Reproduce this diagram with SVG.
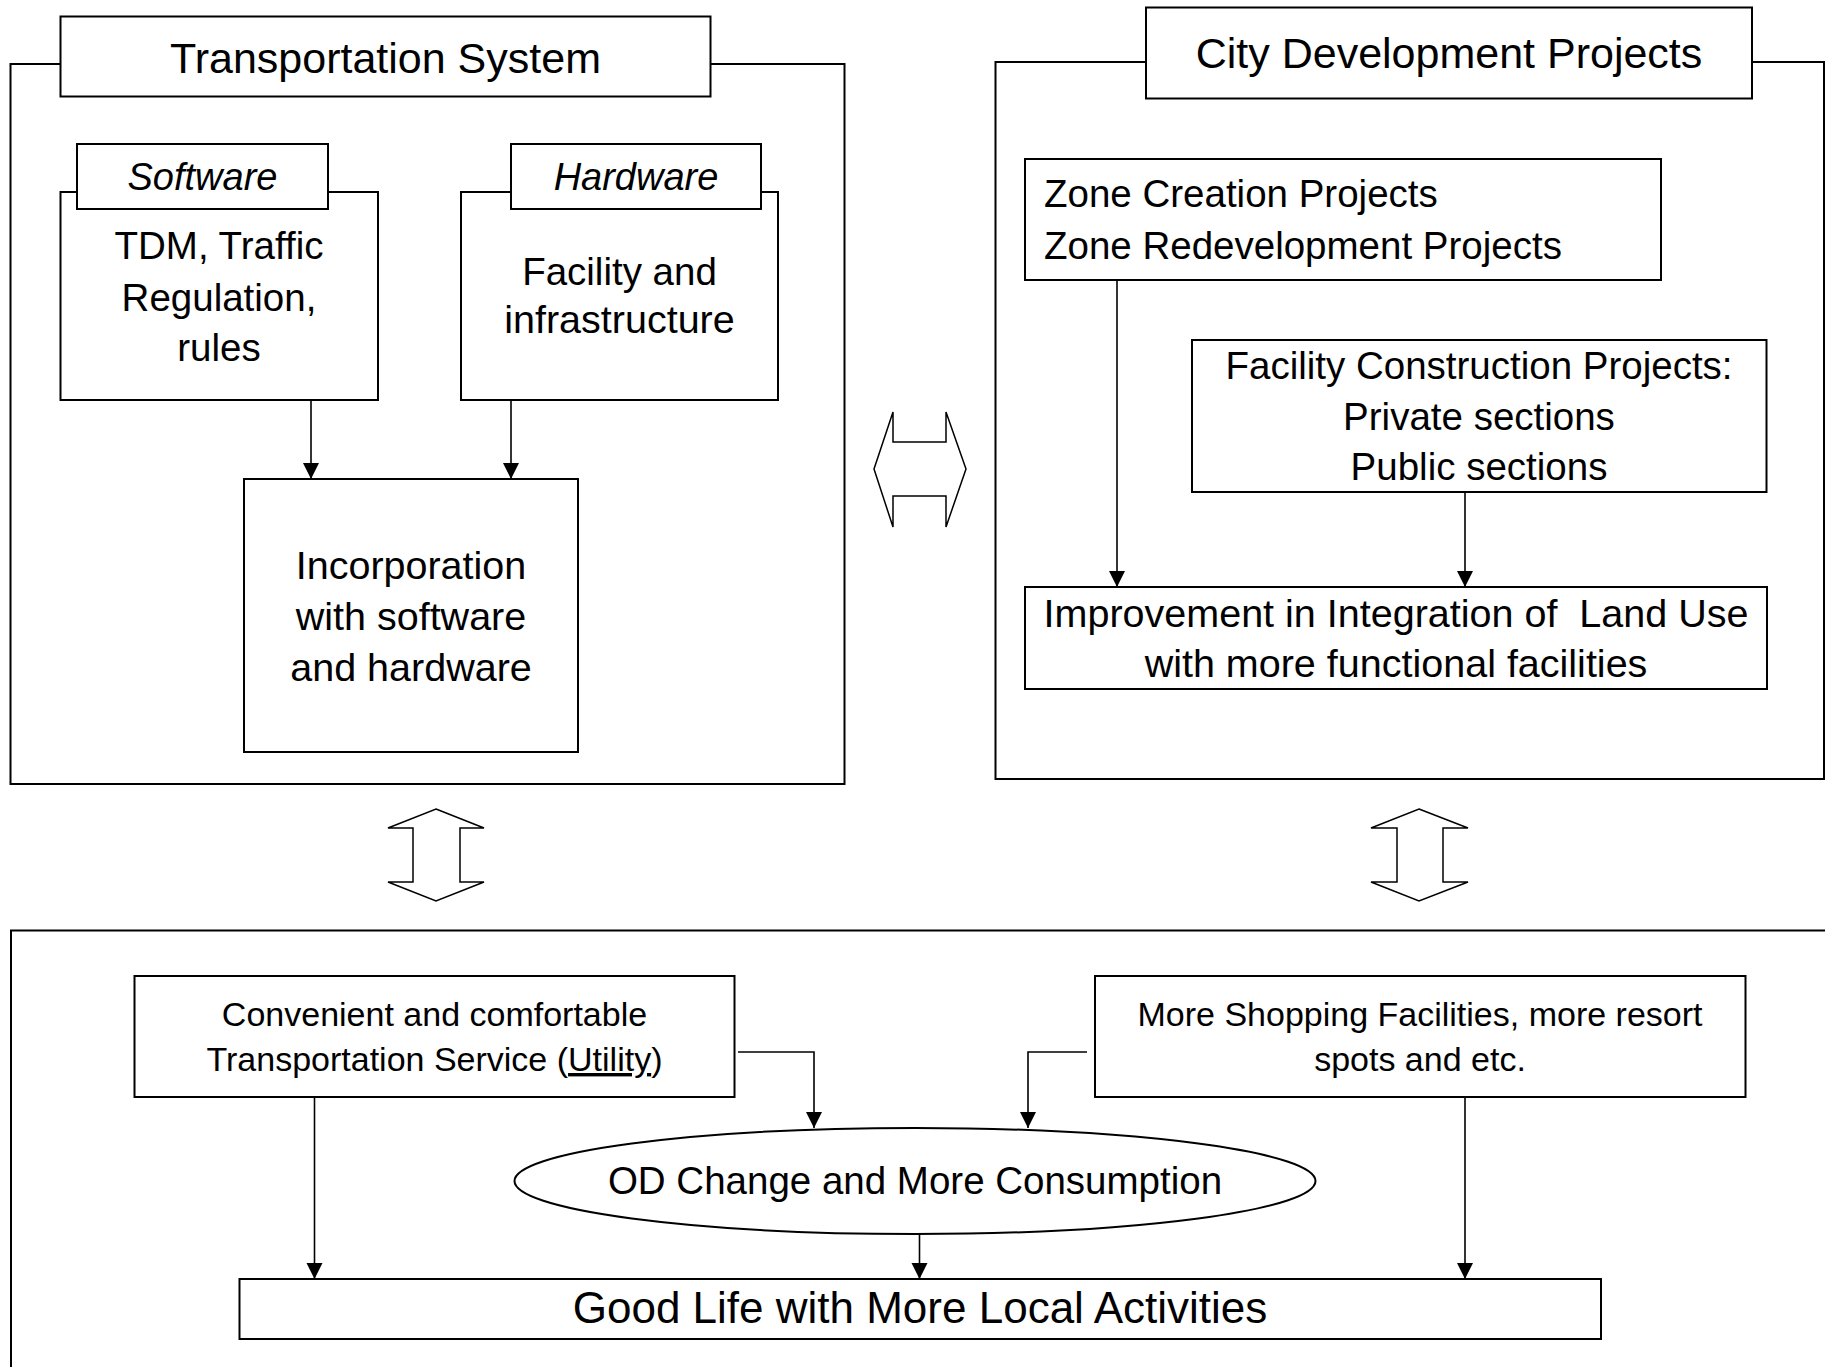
<svg xmlns="http://www.w3.org/2000/svg" width="1825" height="1367" viewBox="0 0 1825 1367">
<style>
  .box { fill: #ffffff; stroke: #000000; stroke-width: 2; }
  .frame { fill: none; stroke: #000000; stroke-width: 2; }
  .dbl { fill: #ffffff; stroke: #000000; stroke-width: 1.5; stroke-linejoin: miter; }
  .conn { fill: none; stroke: #000000; stroke-width: 1.6; marker-end: url(#ah); }
  text { font-family: "Liberation Sans", Arial, sans-serif; fill: #000000; }
  .title { font-size: 43px; text-anchor: middle; }
  .hdr { font-size: 38px; font-style: italic; text-anchor: middle; }
  .mid { font-size: 38.5px; text-anchor: middle; }
  .wide { font-size: 39.5px; text-anchor: middle; }
  .left { font-size: 38.5px; text-anchor: start; }
  .small { font-size: 34px; text-anchor: middle; }
  .big { font-size: 44px; text-anchor: middle; }
</style>
<defs>
  <marker id="ah" markerUnits="userSpaceOnUse" markerWidth="17" markerHeight="17" refX="16" refY="8" orient="auto">
    <path d="M0,0 L16,8 L0,16 Z" fill="#000000"/>
  </marker>
</defs>
<rect x="0" y="0" width="1825" height="1367" fill="#ffffff"/>

<g id="transportation-system">
  <rect class="frame" x="10.5" y="64" width="834" height="720"/>
  <rect class="box" x="60.5" y="16.5" width="650" height="80"/>
  <text class="title" x="385.5" y="73">Transportation System</text>
</g>

<g id="software">
  <rect class="box" x="60.5" y="192" width="317.5" height="208"/>
  <rect class="box" x="77" y="144" width="251" height="65"/>
  <text class="hdr" x="202.5" y="190">Software</text>
  <text class="mid" x="219" y="259">TDM, Traffic</text>
  <text class="mid" x="219" y="311">Regulation,</text>
  <text class="mid" x="219" y="361">rules</text>
</g>

<g id="hardware">
  <rect class="box" x="461" y="192" width="317" height="208"/>
  <rect class="box" x="511" y="144" width="250" height="65"/>
  <text class="hdr" x="636" y="190">Hardware</text>
  <text class="mid" x="619.5" y="285">Facility and</text>
  <text class="wide" x="619.5" y="333">infrastructure</text>
</g>

<g id="incorporation">
  <rect class="box" x="244" y="479" width="334" height="273"/>
  <text class="wide" x="411" y="579">Incorporation</text>
  <text class="wide" x="411" y="630">with software</text>
  <text class="wide" x="411" y="681">and hardware</text>
</g>

<g id="city-development">
  <rect class="frame" x="995.5" y="62" width="828.5" height="717"/>
  <rect class="box" x="1146" y="7.5" width="606" height="91"/>
  <text class="title" x="1449" y="68">City Development Projects</text>
</g>

<g id="zone-projects">
  <rect class="box" x="1025" y="159" width="636" height="121"/>
  <text class="left" x="1044" y="207">Zone Creation Projects</text>
  <text class="left" x="1044" y="259">Zone Redevelopment Projects</text>
</g>

<g id="facility-construction">
  <rect class="box" x="1192" y="340" width="574.5" height="152"/>
  <text class="mid" x="1479" y="379">Facility Construction Projects:</text>
  <text class="mid" x="1479" y="430">Private sections</text>
  <text class="mid" x="1479" y="480">Public sections</text>
</g>

<g id="improvement">
  <rect class="box" x="1025" y="587" width="742" height="102"/>
  <text class="wide" x="1396" y="627" xml:space="preserve">Improvement in Integration of  Land Use</text>
  <text class="wide" x="1396" y="677">with more functional facilities</text>
</g>

<g id="bottom-frame">
  <path class="frame" d="M11,1367 V930.5 H1825"/>
</g>

<g id="convenient">
  <rect class="box" x="134.5" y="976" width="600" height="121"/>
  <text class="small" x="434.5" y="1026">Convenient and comfortable</text>
  <text class="small" x="434.5" y="1071">Transportation Service (<tspan text-decoration="underline">Utility</tspan>)</text>
</g>

<g id="shopping">
  <rect class="box" x="1095" y="976" width="650.5" height="121"/>
  <text class="small" x="1420" y="1026">More Shopping Facilities, more resort</text>
  <text class="small" x="1420" y="1071">spots and etc.</text>
</g>

<g id="od-change">
  <ellipse class="box" cx="915" cy="1181" rx="400.5" ry="53"/>
  <text class="mid" x="915" y="1194">OD Change and More Consumption</text>
</g>

<g id="good-life">
  <rect class="box" x="239.5" y="1279" width="1361.5" height="60"/>
  <text class="big" x="920" y="1323">Good Life with More Local Activities</text>
</g>

<g id="connectors">
  <line class="conn" x1="311" y1="400" x2="311" y2="479"/>
  <line class="conn" x1="511" y1="400" x2="511" y2="479"/>
  <line class="conn" x1="1117" y1="280" x2="1117" y2="587"/>
  <line class="conn" x1="1465" y1="492" x2="1465" y2="587"/>
  <line class="conn" x1="314.5" y1="1097" x2="314.5" y2="1279"/>
  <polyline class="conn" points="738,1052 814,1052 814,1128"/>
  <polyline class="conn" points="1087,1052 1028,1052 1028,1128"/>
  <line class="conn" x1="919.5" y1="1234" x2="919.5" y2="1279"/>
  <line class="conn" x1="1465" y1="1097" x2="1465" y2="1279"/>
  <polygon class="dbl" points="874,469 893,412 893,442 946,442 946,412 966,469 946,527 946,496 893,496 893,527"/>
  <polygon class="dbl" points="436,809 484,828 460,828 460,882 484,882 436,901 388,882 413,882 413,828 388,828"/>
  <polygon class="dbl" points="1419,809 1468,828 1443,828 1443,882 1468,882 1419,901 1371,882 1397,882 1397,828 1371,828"/>
</g>
</svg>
